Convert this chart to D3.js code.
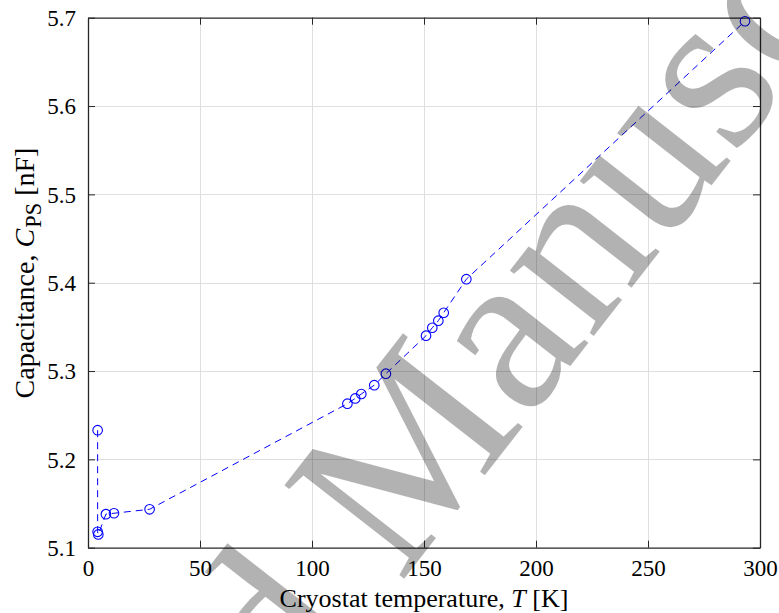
<!DOCTYPE html>
<html>
<head>
<meta charset="utf-8">
<script src="https://cdn.jsdelivr.net/npm/d3@7"></script>
<style>
  html, body { margin: 0; padding: 0; background: #fff; }
  svg { display: block; }
  svg text { font-family: "Liberation Serif", "Times New Roman", serif; }
</style>
</head>
<body>
<svg id="chart" width="779" height="613"></svg>
<script>
// Cryostat temperature (K) and measured capacitance (nF), in measurement order
const temperatureK = [4.3, 4.3, 4.6, 8.0, 11.6, 27.5, 115.8, 119.3, 122.0, 127.8, 133.0, 150.9, 153.7, 156.4, 158.8, 168.9, 293.3];
const capacitanceNF = [5.233, 5.118, 5.115, 5.138, 5.139, 5.1435, 5.263, 5.269, 5.274, 5.284, 5.297, 5.340, 5.349, 5.357, 5.366, 5.404, 5.696];

const xTicks = [0, 50, 100, 150, 200, 250, 300];
const yTicks = [5.1, 5.2, 5.3, 5.4, 5.5, 5.6, 5.7];

const plot = { left: 88, right: 760, top: 17.7, bottom: 547.7 };
const serif = '"Liberation Serif", "Times New Roman", serif';

const svg = d3.select("#chart");

const x = d3.scaleLinear().domain([0, 300]).range([plot.left, plot.right]);
const y = d3.scaleLinear().domain([5.1, 5.7]).range([plot.bottom, plot.top]);

const axisColor = "#262626";
const tickFont = 23;
const labelFont = 26;

// grid
const grid = svg.append("g").attr("stroke", "#dfdfdf").attr("stroke-width", 1);
grid.selectAll("line.gx").data(xTicks.slice(1, -1)).join("line")
  .attr("x1", d => Math.round(x(d)) + 0.5).attr("x2", d => Math.round(x(d)) + 0.5)
  .attr("y1", plot.top).attr("y2", plot.bottom);
grid.selectAll("line.gy").data(yTicks.slice(1, -1)).join("line")
  .attr("y1", d => Math.round(y(d)) + 0.5).attr("y2", d => Math.round(y(d)) + 0.5)
  .attr("x1", plot.left).attr("x2", plot.right);

// axes with inward ticks on all four sides
const tickLen = 7;
const axB = svg.append("g").attr("transform", `translate(0,${plot.bottom})`)
  .call(d3.axisBottom(x).tickValues(xTicks).tickSizeInner(-tickLen).tickSizeOuter(0).tickPadding(12).tickFormat(d3.format("d")));
const axT = svg.append("g").attr("transform", `translate(0,${plot.top})`)
  .call(d3.axisTop(x).tickValues(xTicks).tickSizeInner(-tickLen).tickSizeOuter(0).tickFormat(""));
const axL = svg.append("g").attr("transform", `translate(${plot.left},0)`)
  .call(d3.axisLeft(y).tickValues(yTicks).tickSizeInner(-tickLen).tickSizeOuter(0).tickPadding(12).tickFormat(d3.format(".1f")));
const axR = svg.append("g").attr("transform", `translate(${plot.right},0)`)
  .call(d3.axisRight(y).tickValues(yTicks).tickSizeInner(-tickLen).tickSizeOuter(0).tickFormat(""));

[axB, axT, axL, axR].forEach(g => {
  g.attr("font-family", null).attr("font-size", null);
  g.select(".domain").attr("stroke", axisColor).attr("stroke-width", 1.3);
  g.selectAll(".tick line").attr("stroke", axisColor).attr("stroke-width", 1);
  g.selectAll(".tick text").attr("fill", "#000")
    .style("font-size", tickFont + "px").style("font-family", serif);
});
axB.selectAll(".tick text").attr("dy", "0.71em");
axL.selectAll(".tick text").attr("dy", "0.34em");

// data series: dashed line with open circle markers
const pts = temperatureK.map((t, i) => [t, capacitanceNF[i]]);
const line = d3.line().x(d => x(d[0])).y(d => y(d[1]));
svg.append("path").datum(pts)
  .attr("d", line).attr("fill", "none")
  .attr("stroke", "#0000ff").attr("stroke-width", 1)
  .attr("stroke-dasharray", "7,5");
svg.append("g").selectAll("circle").data(pts).join("circle")
  .attr("cx", d => x(d[0])).attr("cy", d => y(d[1])).attr("r", 4.8)
  .attr("fill", "none").attr("stroke", "#0000ff").attr("stroke-width", 1.1);

// axis titles
const xl = svg.append("text")
  .attr("x", (plot.left + plot.right) / 2).attr("y", 607)
  .attr("text-anchor", "middle").style("font-size", labelFont + "px").attr("fill", "#000");
xl.append("tspan").text("Cryostat temperature, ");
xl.append("tspan").attr("font-style", "italic").text("T");
xl.append("tspan").text(" [K]");

const yLabelSize = 28;
const yl = svg.append("text")
  .attr("transform", "translate(34,273) rotate(-90)")
  .attr("text-anchor", "middle").style("font-size", yLabelSize + "px").attr("fill", "#000");
yl.append("tspan").text("Capacitance, ");
yl.append("tspan").attr("font-style", "italic").text("C");
yl.append("tspan").style("font-size", (yLabelSize * 0.8) + "px").attr("dx", "0.05em").attr("dy", "0.3em").text("PS");
yl.append("tspan").attr("dy", "-0.24em").text(" [nF]");

// diagonal watermark overlay
const wm = svg.append("g")
  .attr("transform", "translate(400,584) rotate(-52)")
  .attr("fill", "#000").attr("fill-opacity", 0.3);
wm.append("text").attr("text-anchor", "end").style("font-size", "232px").text("Accepted\u00a0");
wm.append("text").attr("text-anchor", "start").style("font-size", "232px").text("Manuscript");
</script>
</body>
</html>
